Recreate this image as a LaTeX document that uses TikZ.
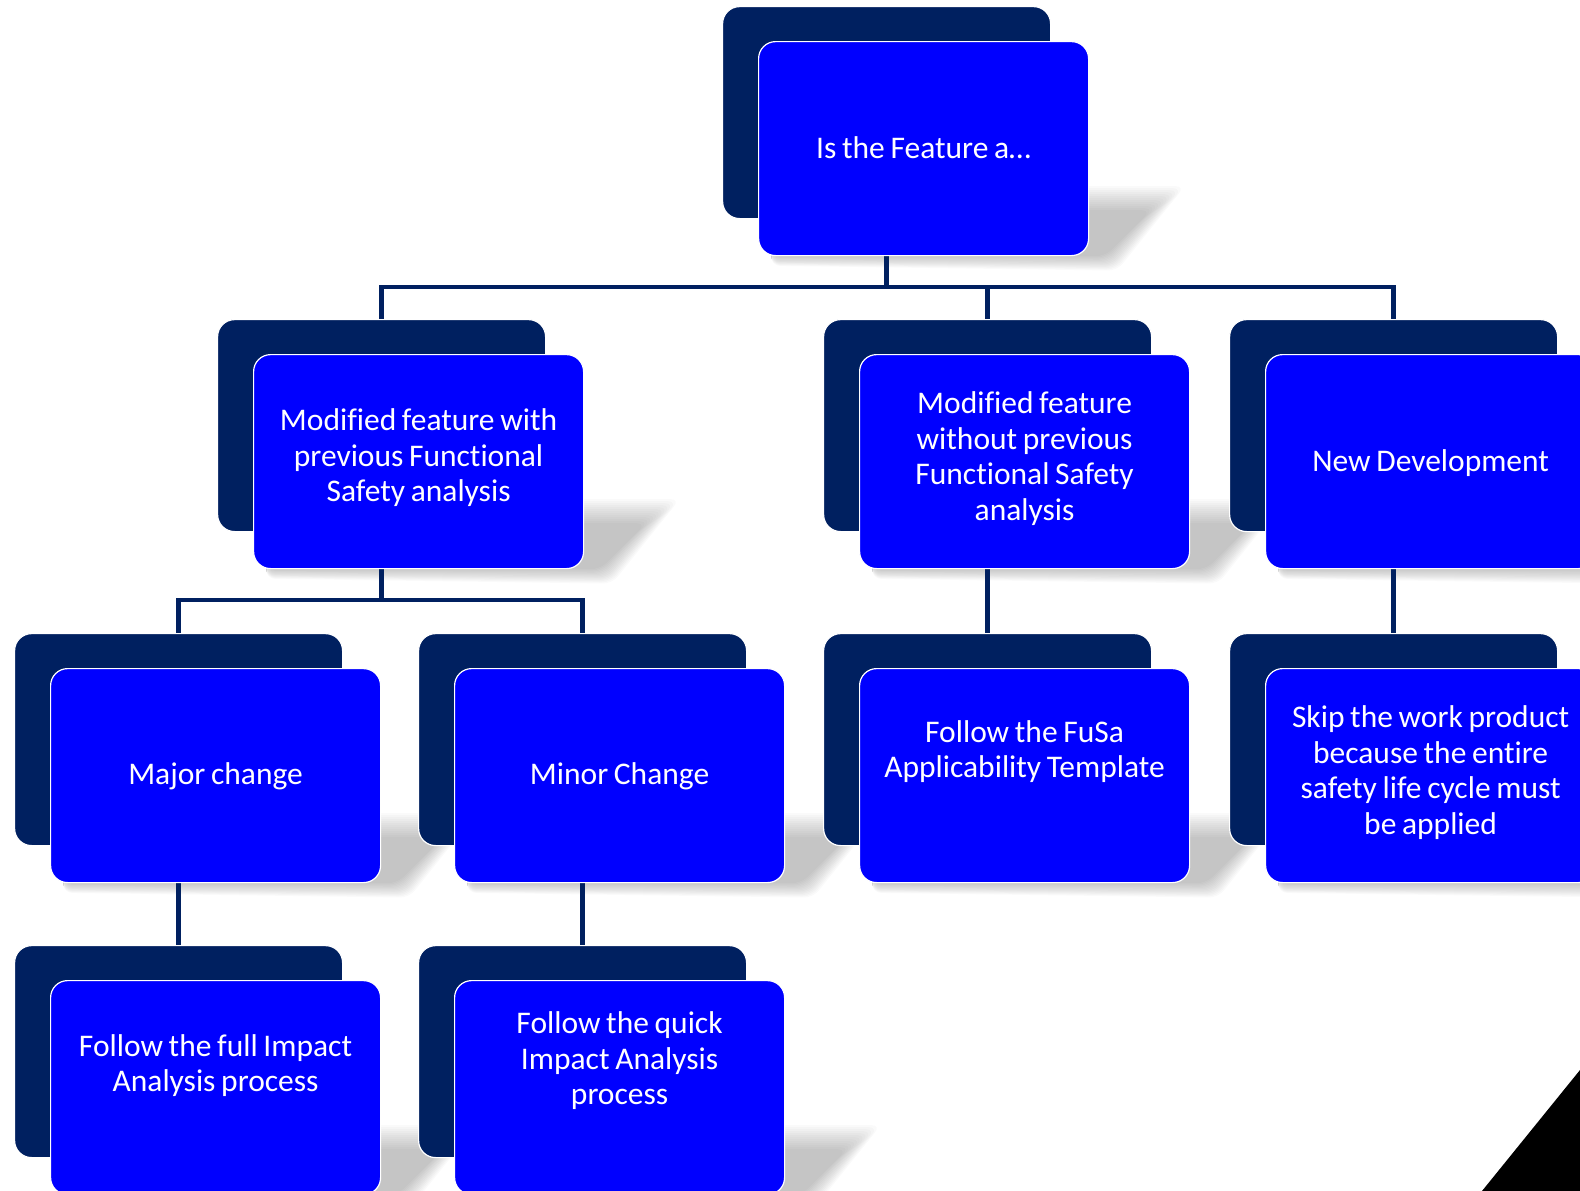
\documentclass[tikz,border=0pt]{standalone}
\usepackage{fontspec}
\setmainfont[Ligatures=NoCommon, WordSpace=0.8]{Carlito}
\definecolor{navy}{HTML}{002060}
\definecolor{vivid}{HTML}{0000FF}
\pgfdeclarelayer{bg}
\pgfsetlayers{bg,main}
\tikzset{
  backcard/.style={rectangle, rounded corners=17pt, fill=navy, draw=white,
    line width=1.2pt, minimum width=328pt, minimum height=212pt,
    inner sep=0pt, anchor=north west},
  frontcard/.style={rectangle, rounded corners=17pt, fill=vivid, draw=white,
    line width=1.2pt, minimum width=330pt, minimum height=214pt,
    inner sep=0pt, anchor=north west},
  cardtext/.style={text=white, align=center,
    font=\fontsize{31.5}{35.5}\selectfont, inner sep=0pt},
  conn/.style={draw=navy, line width=4.5pt},
}
% a stacked card: name, x and y of the back card's top-left corner,
% text, vertical offset of the text
\newcommand\tiercard[5]{%
  \node[backcard] (#1B) at (#2,#3) {};
  \node[frontcard] (#1F) at (#2+36,#3+35) {};
  \node[cardtext] (#1T) at ([shift={(0,#5)}]#1F.center) {#4};
}
% soft slanted shadow behind the lower right corner of a front card
\newcommand\castshadow[1]{%
  \foreach \e in {0,2,...,24}{
    \fill[black, opacity=0.019, rounded corners=9pt]
      ([shift={(-10,-46-\e)}]#1F.south east)
      -- ([shift={(62+1.4*\e,-46-\e)}]#1F.south east)
      -- ([shift={(16+0.5*\e,\e*0.6)}]#1F.south east)
      -- ([shift={(-318,\e*0.4)}]#1F.south east)
      -- ([shift={(-318,-6)}]#1F.south east) -- cycle;
  }%
}
\begin{document}
\begin{tikzpicture}[x=1pt, y=-1pt]
  \useasboundingbox (0,0) rectangle (1580,1191);

  % cards
  \tiercard{top}{722}{6}{Is the Feature a…}{-1}
  \tiercard{ma}{217}{319}{Modified feature with\\previous Functional\\Safety analysis}{-4}
  \tiercard{mb}{823}{319}{Modified feature\\without previous\\Functional Safety\\analysis}{-3}
  \tiercard{mc}{1229}{319}{New Development}{1}
  \tiercard{la}{14}{633}{Major change}{1}
  \tiercard{lb}{418}{633}{Minor Change}{1}
  \tiercard{lc}{823}{633}{Follow the FuSa\\Applicability Template}{-24}
  \tiercard{ld}{1229}{633}{Skip the work product\\because the entire\\safety life cycle must\\be applied}{-3}
  \tiercard{ba}{14}{945}{Follow the full Impact\\Analysis process}{-22}
  \tiercard{bb}{418}{945}{Follow the quick\\Impact Analysis\\process}{-27}

  \coordinate (j1) at (topB.center |- 0,287);
  \coordinate (j2) at (maB.center |- 0,600);

  \begin{pgfonlayer}{bg}
    \foreach \n in {top,ma,mb,mc,la,lb,lc,ld,ba,bb}{\castshadow{\n}}
    % connectors
    \draw[conn] (topF.south -| topB.center) -- (j1);
    \draw[conn] (maB.north) |- (j1) -| (mcB.north);
    \draw[conn] (j1 -| mbB.center) -- (mbB.north);
    \draw[conn] (maF.south -| maB.center) -- (j2);
    \draw[conn] (laB.north) |- (j2) -| (lbB.north);
    \draw[conn] (mbF.south -| mbB.center) -- (lcB.north);
    \draw[conn] (mcF.south -| mcB.center) -- (ldB.north);
    \draw[conn] (laF.south -| laB.center) -- (baB.north);
    \draw[conn] (lbF.south -| lbB.center) -- (bbB.north);
  \end{pgfonlayer}

  % black corner wedge
  \fill[black] (1580,1070) -- (1482,1191) -- (1580,1191) -- cycle;
\end{tikzpicture}
\end{document}
